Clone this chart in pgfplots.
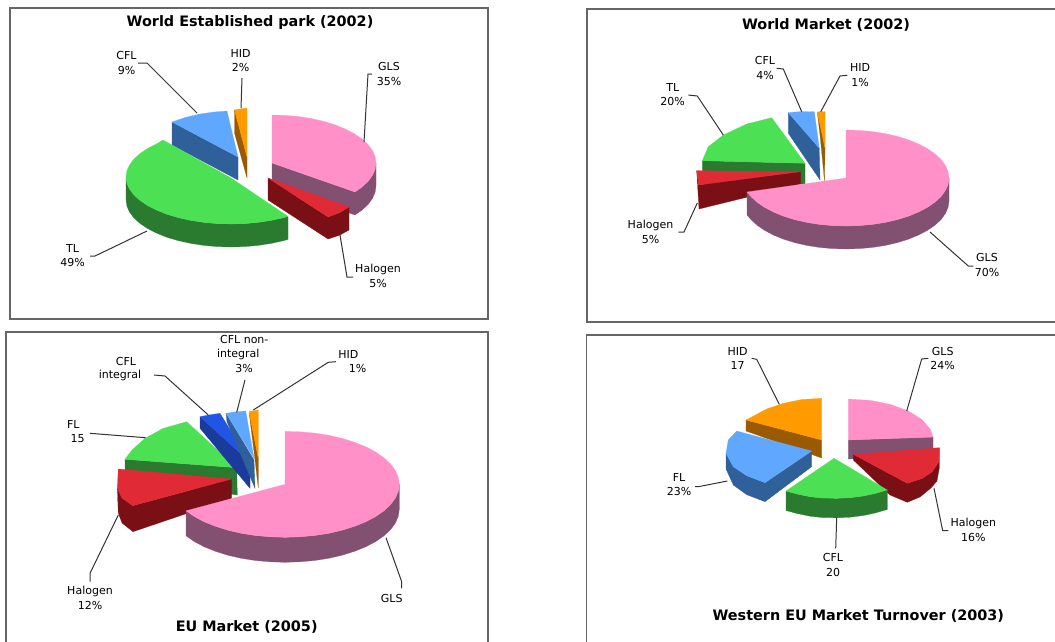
\documentclass[border=0pt]{standalone}
\usepackage{pgfplots}
\pgfplotsset{compat=1.18}
\usepackage{fontspec}
\setmainfont{DejaVu Sans}
\definecolor{pinkT}{HTML}{FF90C8}\definecolor{pinkS}{HTML}{825070}
\definecolor{greenT}{HTML}{4CE055}\definecolor{greenS}{HTML}{2A7A30}
\definecolor{redT}{HTML}{E02A35}\definecolor{redS}{HTML}{7A1015}
\definecolor{blueT}{HTML}{60A8FF}\definecolor{blueS}{HTML}{30609A}
\definecolor{navyT}{HTML}{2055E5}\definecolor{navyS}{HTML}{1A3A9C}
\definecolor{orangeT}{HTML}{FF9A00}\definecolor{orangeS}{HTML}{9A5A00}
\definecolor{framegray}{HTML}{666666}
\definecolor{labelgray}{HTML}{333333}
\newcommand\lbl{\fontsize{11}{14.5}\selectfont}
\newcommand\ttl{\fontsize{14.4}{16}\selectfont\bfseries}
\begin{document}
\begin{tikzpicture}
\begin{axis}[
  hide axis, scale only axis, width=1055pt, height=641pt,
  xmin=0, xmax=1055, ymin=0, ymax=641, y dir=reverse,
  clip=true,
  face/.style={fill=#1, draw=#1, line width=0.2pt},
  frame/.style={draw=framegray, line width=1.2pt},
  leader/.style={draw=labelgray, line width=1pt},
  every node/.append style={text=black!80, inner sep=0pt},
]
% Full page extent
\addplot[draw=none] coordinates {(0,0)(1055,0)(1055,641)(0,641)};
% ---- World Established park (2002)
\addplot[frame] coordinates {(10,8)(488,8)(488,319)(10,319)} --cycle;
\addplot[face=pinkS] coordinates {(272,163)(355,192)(362.1,187)(368.1,181.4)(372.5,175.4)(375.1,169.3)(376,163)(376,186)(375.1,192.3)(372.5,198.4)(368.1,204.4)(362.1,210)(355,215)(272,186)} --cycle;
\addplot[face=pinkT] coordinates {(272,163)(272,115)(285.6,115.4)(298.9,116.6)(311.8,118.6)(324,121.4)(335.3,124.9)(345.5,129.1)(354.5,133.8)(362.1,139)(368.1,144.6)(372.5,150.6)(375.1,156.7)(376,163)(375.1,169.3)(372.5,175.4)(368.1,181.4)(362.1,187)(355,192)} --cycle;
\addplot[face=redS] coordinates {(268,178)(328,217)(340,212.5)(349,207)(349,230)(340,235)(328,239)(268,200)} --cycle;
\addplot[face=redT] coordinates {(268,178)(349,207)(340,212.5)(328,217)} --cycle;
\addplot[face=blueS] coordinates {(172,122)(238,157)(238,180)(172,145)} --cycle;
\addplot[face=blueT] coordinates {(172,122)(185,117.5)(200,114)(214,112)(227,111)(238,157)} --cycle;
\addplot[face=orangeS] coordinates {(234.5,110)(247,157)(247,178)(234.5,133)} --cycle;
\addplot[face=orangeT] coordinates {(234.5,110)(241,108.8)(247,108)(247,157)} --cycle;
\addplot[face=greenS] coordinates {(126,177)(126.9,183.2)(129.6,189.2)(134,195)(140.1,200.5)(147.7,205.6)(156.8,210.2)(167,214.3)(178.5,217.7)(190.8,220.4)(203.8,222.4)(217.2,223.6)(231,224)(244.8,223.6)(258.2,222.4)(271.2,220.4)(283.5,217.7)(288,216.4)(288,239.4)(283.5,240.7)(271.2,243.4)(258.2,245.4)(244.8,246.6)(231,247)(217.2,246.6)(203.8,245.4)(190.8,243.4)(178.5,240.7)(167,237.3)(156.8,233.2)(147.7,228.6)(140.1,223.5)(134,218)(129.6,212.2)(126.9,206.2)(126,200)} --cycle;
\addplot[face=greenT] coordinates {(231,178)(163,140)(156.8,143.8)(147.7,148.4)(140.1,153.5)(134,159)(129.6,164.8)(126.9,170.8)(126,177)(126.9,183.2)(129.6,189.2)(134,195)(140.1,200.5)(147.7,205.6)(156.8,210.2)(167,214.3)(178.5,217.7)(190.8,220.4)(203.8,222.4)(217.2,223.6)(231,224)(244.8,223.6)(258.2,222.4)(271.2,220.4)(283.5,217.7)(288,216.4)} --cycle;
\addplot[leader] coordinates {(372,74)(368,74)(364,142)};
\addplot[leader] coordinates {(340,235)(347,277)(353,277)};
\addplot[leader] coordinates {(147,231)(95,256)(90,256)};
\addplot[leader] coordinates {(197,113)(147,63)(138,63)};
\addplot[leader] coordinates {(241,108)(242,78)};
\node[font=\ttl] at (axis cs:250,23) {World Established park (2002)};
\node[font=\lbl,align=center] at (axis cs:389,74) {GLS\\35\%};
\node[font=\lbl,align=center] at (axis cs:378,276) {Halogen\\5\%};
\node[font=\lbl,align=center] at (axis cs:72.5,255.5) {TL\\49\%};
\node[font=\lbl,align=center] at (axis cs:126.5,63) {CFL\\9\%};
\node[font=\lbl,align=center] at (axis cs:240.5,60.5) {HID\\2\%};
% ---- World Market (2002)
\addplot[frame] coordinates {(587,9)(1062,9)(1062,322)(587,322)} --cycle;
\addplot[face=greenS] coordinates {(702.3,160.7)(805,163.3)(805,184)(702.3,184)} --cycle;
\addplot[face=greenT] coordinates {(771.7,117.7)(746.7,124)(723.3,135)(708.3,146.7)(702.3,160.7)(805,163.3)} --cycle;
\addplot[face=redS] coordinates {(696.7,170.7)(698.3,185)(800.7,171.7)(800.7,184)(699,209)} --cycle;
\addplot[face=redT] coordinates {(696.7,170.7)(800.7,171.7)(698.3,185)} --cycle;
\addplot[face=blueS] coordinates {(788.3,112.7)(819.3,148.3)(820,180)(788.3,133.3)} --cycle;
\addplot[face=blueT] coordinates {(788.3,112.7)(801,111.5)(814.3,111.7)(819.3,148.3)} --cycle;
\addplot[face=orangeS] coordinates {(817.3,112)(825,148)(824.5,181)(820,135)} --cycle;
\addplot[face=orangeT] coordinates {(817.3,112)(821,111.5)(825,111.7)(825,148)} --cycle;
\addplot[face=pinkS] coordinates {(949,178)(948.1,184.3)(945.5,190.4)(941.2,196.4)(935.2,202)(927.7,207.2)(918.8,211.9)(908.7,216.1)(897.5,219.6)(885.4,222.4)(872.7,224.4)(859.5,225.6)(846,226)(832.5,225.6)(819.3,224.4)(806.6,222.4)(794.5,219.6)(783.3,216.1)(773.2,211.9)(764.3,207.2)(756.8,202)(750.8,196.4)(747,192)(747,215)(750.8,219.4)(756.8,225)(764.3,230.2)(773.2,234.9)(783.3,239.1)(794.5,242.6)(806.6,245.4)(819.3,247.4)(832.5,248.6)(846,249)(859.5,248.6)(872.7,247.4)(885.4,245.4)(897.5,242.6)(908.7,239.1)(918.8,234.9)(927.7,230.2)(935.2,225)(941.2,219.4)(945.5,213.4)(948.1,207.3)(949,201)} --cycle;
\addplot[face=pinkT] coordinates {(846,178)(846,130)(859.5,130.4)(872.7,131.6)(885.4,133.6)(897.5,136.4)(908.7,139.9)(918.8,144.1)(927.7,148.8)(935.2,154)(941.2,159.6)(945.5,165.6)(948.1,171.7)(949,178)(948.1,184.3)(945.5,190.4)(941.2,196.4)(935.2,202)(927.7,207.2)(918.8,211.9)(908.7,216.1)(897.5,219.6)(885.4,222.4)(872.7,224.4)(859.5,225.6)(846,226)(832.5,225.6)(819.3,224.4)(806.6,222.4)(794.5,219.6)(783.3,216.1)(773.2,211.9)(764.3,207.2)(756.8,202)(750.8,196.4)(747,192)} --cycle;
\addplot[leader] coordinates {(930,232)(968.3,266)(973.3,266)};
\addplot[leader] coordinates {(697.3,203)(684,232)(678.3,232)};
\addplot[leader] coordinates {(723.3,135)(697.3,96)(688.3,95)};
\addplot[leader] coordinates {(801.7,111.7)(783.3,69)(776.7,68.3)};
\addplot[leader] coordinates {(820.7,111.7)(840,76)(847.3,75.3)};
\node[font=\ttl] at (axis cs:826,25) {World Market (2002)};
\node[font=\lbl,align=center] at (axis cs:987,265) {GLS\\70\%};
\node[font=\lbl,align=center] at (axis cs:650.5,232) {Halogen\\5\%};
\node[font=\lbl,align=center] at (axis cs:672.7,94.5) {TL\\20\%};
\node[font=\lbl,align=center] at (axis cs:765,68) {CFL\\4\%};
\node[font=\lbl,align=center] at (axis cs:860,75) {HID\\1\%};
% ---- EU Market (2005)
\addplot[frame] coordinates {(6,332)(488,332)(488,646)(6,646)} --cycle;
\addplot[face=greenS] coordinates {(125,459.3)(236.7,467.7)(237.3,495)(125,480)} --cycle;
\addplot[face=greenT] coordinates {(125,459.3)(132,450)(145,438.3)(163.3,428.3)(186.7,421.7)(236.7,467.7)} --cycle;
\addplot[face=redS] coordinates {(117.3,488.3)(122,498)(132.7,505.7)(231.7,479)(231.7,498.3)(133,531.7)(122,523)(118.3,513)} --cycle;
\addplot[face=redT] coordinates {(118.3,469)(231.7,479)(132.7,505.7)(122,498)(117.3,488.3)} --cycle;
\addplot[face=navyS] coordinates {(200,416.7)(250,462)(250,488.3)(200,428.3)} --cycle;
\addplot[face=navyT] coordinates {(200,416.7)(210,414.8)(220,413.3)(250,462)} --cycle;
\addplot[face=blueS] coordinates {(226,413.3)(254,460)(255,488.3)(227,422)} --cycle;
\addplot[face=blueT] coordinates {(226,413.3)(236,411.8)(245.7,411)(254,458.3)} --cycle;
\addplot[face=orangeS] coordinates {(249,411.7)(258.3,458.3)(258.3,488)(255,460)} --cycle;
\addplot[face=orangeT] coordinates {(249,411.7)(254,410.6)(258.3,410)(258.3,458.3)} --cycle;
\addplot[face=pinkS] coordinates {(399.3,484.3)(398.3,491.2)(395.4,498)(390.6,504.6)(384,510.8)(375.6,516.6)(365.8,521.8)(354.6,526.3)(342.2,530.2)(328.8,533.3)(314.6,535.5)(300,536.8)(285,537.3)(270,536.8)(255.4,535.5)(241.2,533.3)(227.9,530.2)(215.4,526.3)(204.2,521.8)(194.4,516.6)(186,510.8)(186,535.8)(194.4,541.6)(204.2,546.8)(215.4,551.3)(227.9,555.2)(241.2,558.3)(255.4,560.5)(270,561.8)(285,562.3)(300,561.8)(314.6,560.5)(328.8,558.3)(342.2,555.2)(354.6,551.3)(365.8,546.8)(375.6,541.6)(384,535.8)(390.6,529.6)(395.4,523)(398.3,516.2)(399.3,509.3)} --cycle;
\addplot[face=pinkT] coordinates {(285,484.3)(285,431.3)(300,431.8)(314.6,433.1)(328.8,435.3)(342.2,438.4)(354.6,442.3)(365.8,446.8)(375.6,452)(384,457.8)(390.6,464)(395.4,470.6)(398.3,477.4)(399.3,484.3)(398.3,491.2)(395.4,498)(390.6,504.6)(384,510.8)(375.6,516.6)(365.8,521.8)(354.6,526.3)(342.2,530.2)(328.8,533.3)(314.6,535.5)(300,536.8)(285,537.3)(270,536.8)(255.4,535.5)(241.2,533.3)(227.9,530.2)(215.4,526.3)(204.2,521.8)(194.4,516.6)(186,510.8)} --cycle;
\addplot[leader] coordinates {(386,537.7)(401.7,581.7)(401.7,588.3)};
\addplot[leader] coordinates {(118.3,515)(90,573.3)(90,581.7)};
\addplot[leader] coordinates {(145.7,437.7)(90,433.3)};
\addplot[leader] coordinates {(208.3,415)(165,376)(154,375)};
\addplot[leader] coordinates {(236.7,412.3)(245,380)};
\addplot[leader] coordinates {(253.3,410)(328.3,362.3)(336,361.7)};
\node[font=\ttl] at (axis cs:246.7,627) {EU Market (2005)};
\node[font=\lbl] at (axis cs:391.7,598.3) {GLS};
\node[font=\lbl,align=center] at (axis cs:90,598) {Halogen\\12\%};
\node[font=\lbl] at (axis cs:73.3,424) {FL};
\node[font=\lbl] at (axis cs:77.7,438.3) {15};
\node[font=\lbl] at (axis cs:126,361) {CFL};
\node[font=\lbl] at (axis cs:120,375) {integral};
\node[font=\lbl] at (axis cs:244.3,339.3) {CFL non-};
\node[font=\lbl] at (axis cs:238.3,354) {integral};
\node[font=\lbl] at (axis cs:244,368.7) {3\%};
\node[font=\lbl] at (axis cs:348.3,354) {HID};
\node[font=\lbl] at (axis cs:357.7,368.7) {1\%};
% ---- Western EU Market Turnover (2003)
\addplot[frame] coordinates {(586.7,335)(1062,335)(1062,646)(586.7,646)} --cycle;
\addplot[face=pinkS] coordinates {(848.3,440)(933.1,437)(933.1,456)(848.3,459)} --cycle;
\addplot[face=pinkT] coordinates {(848.3,440)(848.3,399)(870.3,400.4)(890.8,404.5)(908.4,411)(921.9,419.5)(930.4,429.4)(933.1,437.1)} --cycle;
\addplot[face=orangeS] coordinates {(746,420)(821.7,440)(821.7,458)(746,431)} --cycle;
\addplot[face=orangeT] coordinates {(746,420)(766.7,409)(783.3,403.3)(802,399.5)(821.7,398.3)(821.7,440)} --cycle;
\addplot[face=blueS] coordinates {(726,453.3)(733.3,466.7)(746.7,475.7)(765,482.7)(811.7,451)(811.7,466.7)(765,501.7)(746.7,494.7)(733.3,485)(726,469)} --cycle;
\addplot[face=blueT] coordinates {(736.7,431)(728.3,440)(726,453.3)(733.3,466.7)(746.7,475.7)(765,482.7)(811.7,451)} --cycle;
\addplot[face=redS] coordinates {(853.3,454.3)(907.3,483.3)(922,478.5)(932,472)(938.7,462)(939.3,447.7)(939.3,468)(937,481)(931,488)(920,497)(907.3,502.3)(890,495)(853.3,460)} --cycle;
\addplot[face=redT] coordinates {(853.3,454.3)(939.3,447.7)(938.7,462)(932,472)(922,478.5)(907.3,483.3)} --cycle;
\addplot[face=greenS] coordinates {(786,491)(797,494)(810,496.7)(822,498)(836.7,498.3)(850,497.7)(863.3,496)(875,493.5)(887.3,490)(887.3,509.5)(875,513)(863.3,515.5)(850,517.2)(836.7,517.8)(822,517.5)(810,516.2)(797,513.5)(786,510.5)} --cycle;
\addplot[face=greenT] coordinates {(834,458.3)(887.3,490)(875,493.5)(863.3,496)(850,497.7)(836.7,498.3)(822,498)(810,496.7)(797,494)(786,491)} --cycle;
\addplot[leader] coordinates {(906.7,411)(921.7,359)(928.3,358.3)};
\addplot[leader] coordinates {(934,488.3)(942.7,530.7)(948.3,530.7)};
\addplot[leader] coordinates {(836.7,517.7)(835.7,548.3)};
\addplot[leader] coordinates {(727.3,481)(698.3,486.7)(695,486.7)};
\addplot[leader] coordinates {(779.3,404.3)(756.7,359.3)(751.7,358.3)};
\node[font=\ttl] at (axis cs:858.3,616) {Western EU Market Turnover (2003)};
\node[font=\lbl,align=center] at (axis cs:942.7,358.3) {GLS\\24\%};
\node[font=\lbl,align=center] at (axis cs:973.3,530) {Halogen\\16\%};
\node[font=\lbl,align=center] at (axis cs:833,565) {CFL\\20};
\node[font=\lbl,align=center] at (axis cs:679,484.5) {FL\\23\%};
\node[font=\lbl,align=center] at (axis cs:737.7,358.3) {HID\\17};
\end{axis}
\end{tikzpicture}
\end{document}
